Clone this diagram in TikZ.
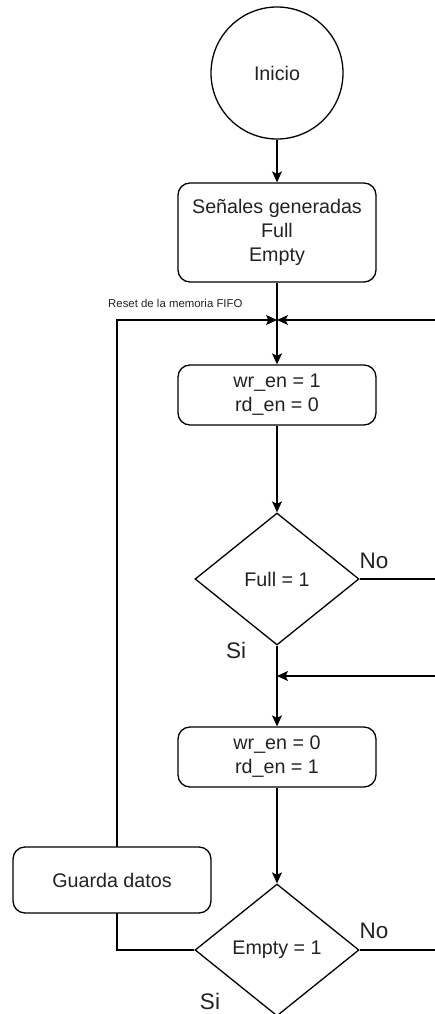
\documentclass[tikz,border=0pt]{standalone}
\usepackage{fontspec}
\setmainfont{Liberation Sans}
\usetikzlibrary{shapes.geometric,arrows.meta}
\definecolor{txt}{HTML}{222222}
\begin{document}
\begin{tikzpicture}[x=1pt,y=-1pt,
  every node/.style={font=\fontsize{19.7}{24}\selectfont, text=txt},
  boxst/.style={draw, rounded corners=12pt, line width=1.3pt, inner sep=0pt, align=center},
  dia/.style={draw, diamond, line width=1.3pt, inner sep=0pt, minimum width=164pt, minimum height=132pt},
  ln/.style={line width=1.3pt},
  arr/.style={line width=1.3pt, -{Stealth[length=11pt,width=10pt,inset=2.5pt]}},
  lbl/.style={font=\fontsize{22.5}{26}\selectfont}]
\useasboundingbox (0,0) rectangle (435,1014);
\node[draw, circle, line width=1.3pt, minimum size=132pt, inner sep=0pt] (ini) at (277,73) {Inicio};
\node[boxst, minimum width=198pt, minimum height=99pt] (sen) at (277,232.5) {Señales generadas\\Full\\Empty};
\node[boxst, minimum width=198pt, minimum height=60pt] (w1) at (277,395) {wr\_en = 1\\rd\_en = 0};
\node[dia] (full) at (277,579) {Full = 1};
\node[boxst, minimum width=198pt, minimum height=60pt] (w0) at (277,757) {wr\_en = 0\\rd\_en = 1};
\node[dia] (emp) at (277,950) {Empty = 1};
\node[boxst, minimum width=198pt, minimum height=66pt] (gd) at (112,880) {Guarda datos};
\coordinate (m1) at (277,320);
\coordinate (m2) at (277,676);
\coordinate (r1) at (435,320);
\coordinate (r2) at (435,676);
\coordinate (r3) at (435,579);
\coordinate (r4) at (435,950);
\coordinate (gt) at (117,847);
\coordinate (gb) at (117,913);
\draw[arr] (ini) -- (sen);
\draw[ln] (sen.south) -- (m1);
\draw[arr] (m1) -- (w1.north);
\draw[arr] (r1) -- (m1);
\draw[arr] (gt) |- (m1);
\draw[arr] (w1.south) -- (full.north);
\draw[ln] (full.east) -- (r3);
\draw[ln] (full.south) -- (m2);
\draw[arr] (r2) -- (m2);
\draw[arr] (m2) -- (w0.north);
\draw[arr] (w0.south) -- (emp.north);
\draw[ln] (emp.east) -- (r4);
\draw[ln] (emp.west) -| (gb);
\node[font=\fontsize{11.4}{13}\selectfont, anchor=west, inner sep=0pt] (rst) at (108,303) {Reset de la memoria FIFO};
\node[lbl] (no1) at (374,561) {No};
\node[lbl] (si1) at (236,650) {Si};
\node[lbl] (no2) at (374,931) {No};
\node[lbl] (si2) at (210,1001) {Si};
\end{tikzpicture}
\end{document}
